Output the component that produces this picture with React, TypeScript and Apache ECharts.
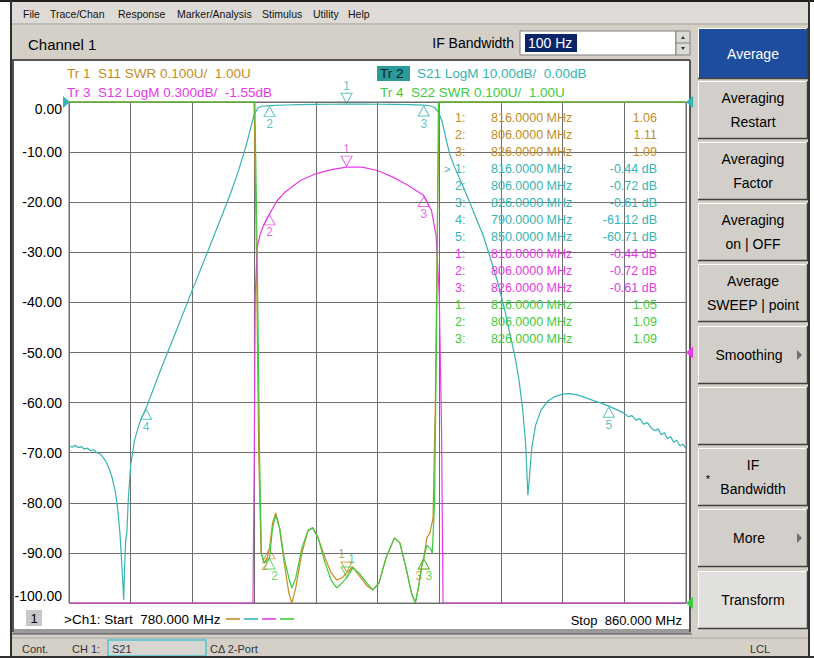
import React, { useEffect, useRef } from "react";
import * as echarts from "echarts";

const FONT = '"Liberation Sans", Arial, sans-serif';

// ---- sweep / scale settings ----
const FREQ_START = 780;
const FREQ_STOP = 860;
const FREQ_DIV = 8;
const S21_MIN = -100;
const S21_MAX = 0;
const S21_DIV = 10;
const S12_MIN = -3.05;
const S12_MAX = -0.05;
const SWR_MIN = 1.0;
const SWR_MAX = 2.0;

// ---- trace data (frequency MHz, displayed value) ----
const s21Data: [number, number][] = [
  [780.0, -68.6], [780.4, -68.9], [780.8, -68.5], [781.2, -69.0], [781.6, -68.8], [782.0, -69.3],
  [782.4, -69.1], [782.8, -69.6], [783.2, -69.4], [783.6, -70.0], [784.0, -70.2], [784.4, -70.9],
  [784.8, -71.8], [785.2, -73.2], [785.6, -75.0], [786.0, -77.8], [786.3, -81.0], [786.6, -86.0],
  [786.8, -91.0], [787.0, -96.5], [787.1, -99.4], [787.2, -93.0], [787.35, -87.5], [787.5, -86.0],
  [787.7, -79.0], [788.0, -72.5], [788.5, -67.5], [789.2, -63.8], [790.0, -61.1], [792.0, -53.0],
  [794.0, -45.3], [796.0, -37.5], [798.0, -29.8], [800.0, -22.0], [801.0, -18.0], [802.0, -13.6],
  [803.0, -8.5], [803.5, -5.5], [804.0, -2.5], [804.5, -1.2], [805.0, -0.85], [806.0, -0.72],
  [808.0, -0.6], [810.0, -0.52], [812.0, -0.47], [814.0, -0.45], [816.0, -0.44], [818.0, -0.44],
  [820.0, -0.45], [822.0, -0.48], [824.0, -0.53], [826.0, -0.61], [826.8, -0.75], [827.4, -1.1],
  [827.9, -2.0], [828.4, -4.0], [828.9, -7.5], [829.4, -10.6], [830.0, -13.0], [831.0, -16.5],
  [832.0, -20.2], [833.0, -24.0], [833.7, -26.6], [834.5, -30.5], [835.5, -35.5], [836.5, -41.5],
  [837.2, -46.5], [837.8, -50.6], [838.3, -55.0], [838.8, -61.0], [839.2, -68.0], [839.5, -78.5],
  [839.7, -75.0], [840.0, -69.0], [840.5, -64.5], [841.2, -61.5], [842.0, -59.8], [843.0, -58.8],
  [844.0, -58.3], [845.0, -58.2], [846.0, -58.5], [847.0, -59.0], [848.0, -59.6], [849.0, -60.1],
  [850.0, -60.7], [851.0, -61.4], [852.0, -62.1], [852.5, -62.8], [853.0, -62.6], [853.5, -63.5],
  [854.0, -63.2], [854.5, -64.3], [855.0, -64.0], [855.5, -65.1], [856.0, -65.6], [856.4, -65.2],
  [856.8, -66.4], [857.2, -66.0], [857.6, -67.2], [858.0, -66.8], [858.4, -67.9], [858.8, -67.5],
  [859.2, -68.6], [859.6, -68.3], [860.0, -69.2],
];

const s12Data: [number, number][] = [
  [780.0, -3.05], [803.85, -3.05], [804.0, -2.3], [804.15, -1.2], [804.4, -0.92], [804.8, -0.84],
  [805.3, -0.78], [806.0, -0.72], [807.0, -0.64], [808.0, -0.59], [810.0, -0.52], [812.0, -0.48],
  [814.0, -0.455], [816.0, -0.44], [818.0, -0.44], [820.0, -0.46], [822.0, -0.5], [824.0, -0.55],
  [825.0, -0.58], [826.0, -0.61], [827.0, -0.7], [827.6, -0.85], [828.0, -1.2], [828.3, -2.0],
  [828.5, -3.05], [860.0, -3.05],
];

const s11Data: [number, number][] = [
  [780.0, 2.0], [804.0, 2.0], [804.3, 1.7], [804.6, 1.3], [804.9, 1.1], [805.3, 1.08], [805.7, 1.09],
  [806.0, 1.11], [806.4, 1.16], [806.8, 1.18], [807.3, 1.15], [807.9, 1.08], [808.5, 1.02],
  [808.9, 1.0], [809.4, 1.03], [810.2, 1.1], [811.0, 1.145], [811.6, 1.15], [812.3, 1.13],
  [813.2, 1.09], [814.0, 1.06], [814.7, 1.046], [815.4, 1.05], [816.0, 1.06], [816.8, 1.072],
  [817.6, 1.055], [818.6, 1.035], [819.4, 1.026], [820.2, 1.04], [821.1, 1.09], [822.2, 1.13],
  [822.9, 1.12], [823.7, 1.07], [824.4, 1.02], [824.9, 1.0], [825.3, 1.03], [825.7, 1.07],
  [826.0, 1.09], [826.4, 1.13], [826.8, 1.14], [827.2, 1.17], [827.5, 1.4], [827.8, 1.8],
  [828.0, 2.0], [860.0, 2.0],
];

const s22Data: [number, number][] = [
  [780.0, 2.0], [804.1, 2.0], [804.4, 1.7], [804.7, 1.3], [804.95, 1.1], [805.3, 1.08], [805.7, 1.085],
  [806.0, 1.09], [806.4, 1.15], [806.8, 1.175], [807.3, 1.15], [807.9, 1.09], [808.5, 1.05],
  [808.9, 1.03], [809.4, 1.05], [810.2, 1.11], [811.0, 1.145], [811.6, 1.15], [812.3, 1.13],
  [813.2, 1.08], [814.0, 1.045], [814.7, 1.03], [815.4, 1.04], [816.0, 1.05], [816.8, 1.07],
  [817.6, 1.06], [818.6, 1.04], [819.4, 1.026], [820.2, 1.04], [821.1, 1.09], [822.2, 1.13],
  [822.9, 1.12], [823.7, 1.07], [824.4, 1.02], [824.9, 1.0], [825.3, 1.03], [825.7, 1.07],
  [826.0, 1.09], [826.4, 1.115], [826.8, 1.11], [827.1, 1.1], [827.4, 1.2], [827.7, 1.6],
  [827.9, 2.0], [860.0, 2.0],
];

// ---- markers ----
const markerFreqs = [816, 806, 826];
const s21MarkerFreqs = [816, 806, 826, 790, 850];
const s11MarkerVals = [1.06, 1.11, 1.09];
const s21MarkerVals = [-0.44, -0.72, -0.61, -61.12, -60.71];
const s12MarkerVals = [-0.44, -0.72, -0.61];
const s22MarkerVals = [1.05, 1.09, 1.09];

// ---- labels ----
const menuItems = ["File", "Trace/Chan", "Response", "Marker/Analysis", "Stimulus", "Utility", "Help"];
const menuX = [23, 50, 118, 177, 262, 313, 348];
const traceNames = [
  "Tr 1  S11 SWR 0.100U/  1.00U",
  "Tr 2",
  "S21 LogM 10.00dB/  0.00dB",
  "Tr 3  S12 LogM 0.300dB/  -1.55dB",
  "Tr 4  S22 SWR 0.100U/  1.00U",
];
const softkeys = [
  ["Average"],
  ["Averaging", "Restart"],
  ["Averaging", "Factor"],
  ["Averaging", "on | OFF"],
  ["Average", "SWEEP | point"],
  ["Smoothing"],
  [""],
  ["IF", "Bandwidth"],
  ["More"],
  ["Transform"],
];

const C_S11 = "#c48c24";
const C_S21 = "#36b4b4";
const C_S12 = "#e63ae6";
const C_S22 = "#3ecb3e";
const GRID_COLOR = "#6e6e6e";
const GRID = { left: 69, top: 102, width: 617, height: 501 };
const PANEL = "#d4d0c8";

const DOWN = "path://M0,0L10,0L5,10Z";
const UP = "path://M5,0L10,10L0,10Z";

function txt(x: number, y: number, text: string, fill: string, size: number, align = "left", extra: any = {}) {
  return {
    type: "text",
    x,
    y,
    z: 50,
    silent: true,
    style: { text, fill, fontSize: size, fontFamily: FONT, align, verticalAlign: "middle", ...extra },
  };
}
function rect(x: number, y: number, w: number, h: number, fill: string, extra: any = {}) {
  return { type: "rect", shape: { x, y, width: w, height: h }, silent: true, z: 1, style: { fill, ...extra } };
}
function line(x1: number, y1: number, x2: number, y2: number, stroke: string, lw = 1, z = 2) {
  return { type: "line", shape: { x1, y1, x2, y2 }, silent: true, z, style: { stroke, lineWidth: lw } };
}

function button(x: number, y: number, w: number, h: number, lines: string[], active: boolean, arrow: boolean, star: boolean, light = false) {
  const els: any[] = [];
  els.push(rect(x, y, w, h, active ? "#1e4d9e" : light ? "#e2e0dc" : "#d2cfca"));
  els.push(line(x, y + 0.5, x + w, y + 0.5, "#ffffff", 1));
  els.push(line(x + 0.5, y, x + 0.5, y + h, "#ffffff", 1));
  els.push(line(x, y + h - 0.5, x + w, y + h - 0.5, "#404040", 1.5));
  els.push(line(x + w - 0.5, y, x + w - 0.5, y + h, "#404040", 1.5));
  const cx = x + w / 2 - (arrow ? 4 : 0);
  const col = active ? "#ffffff" : "#000000";
  if (lines.length === 1) {
    els.push(txt(cx, y + h / 2, lines[0], col, 14, "center"));
  } else {
    els.push(txt(cx, y + h / 2 - 12, lines[0], col, 14, "center"));
    els.push(txt(cx, y + h / 2 + 12, lines[1], col, 14, "center"));
  }
  if (arrow) {
    els.push({
      type: "polygon",
      z: 50,
      silent: true,
      shape: { points: [[x + w - 11, y + h / 2 - 5], [x + w - 6, y + h / 2], [x + w - 11, y + h / 2 + 5]] },
      style: { fill: "#707070" },
    });
  }
  if (star) els.push(txt(x + 10, y + h / 2 + 2, "*", "#000", 11, "center"));
  return els;
}

function markerSeries(freqs: number[], vals: number[], color: string, yAxisIndex: number, dx = 0) {
  return {
    type: "scatter",
    yAxisIndex,
    silent: true,
    clip: false,
    z: 6,
    symbolSize: [11, 10],
    itemStyle: { color: "rgba(0,0,0,0)", borderColor: color, borderWidth: 1 },
    data: freqs.map((f, i) => ({
      value: [f, vals[i]],
      symbol: i === 0 ? DOWN : UP,
      symbolOffset: i === 0 ? [0, -6] : [0, 6],
      label: {
        show: true,
        formatter: String(i + 1),
        position: i === 0 ? "top" : "bottom",
        distance: 1,
        offset: [dx, 0],
        color,
        fontSize: 12,
        fontFamily: FONT,
      },
    })),
  };
}

function lineSeries(data: [number, number][], color: string, yAxisIndex: number, z: number) {
  return {
    type: "line",
    data,
    yAxisIndex,
    showSymbol: false,
    symbol: "none",
    clip: false,
    z,
    lineStyle: { color, width: 1.2 },
  };
}

export default function App() {
  const ref = useRef<HTMLDivElement>(null);
  useEffect(() => {
    document.body.style.margin = "0";
    const chart = echarts.init(ref.current!, undefined, { renderer: "svg" });

    const g: any[] = [];
    // window chrome
    g.push(rect(0, 0, 814, 658, "#ffffff"));
    g.push(rect(10, 0, 800, 657, PANEL));
    g.push(line(0, 1, 814, 1, "#202020", 2));
    g.push(line(11, 0, 11, 658, "#303030", 2));
    g.push(line(809, 0, 809, 658, "#303030", 2));
    g.push(line(0, 657, 814, 657, "#303030", 2));
    g.push(rect(12, 2, 796, 21, "#dedbd6"));
    menuItems.forEach((m, i) => g.push(txt(menuX[i], 14, m, "#111", 10.5)));
    g.push(line(12, 24, 808, 24, "#a8a6a0", 1));
    // channel bar
    g.push(txt(28, 44, "Channel 1", "#000", 15));
    g.push(txt(514, 43, "IF Bandwidth", "#000", 14, "right"));
    g.push(rect(520, 31, 156, 24, "#ffffff", { stroke: "#808080", lineWidth: 1 }));
    g.push(rect(525, 34, 52, 18, "#0a246a"));
    g.push(txt(528, 43, "100 Hz", "#ffffff", 14));
    g.push(rect(676, 31, 14, 24, "#dcdad6", { stroke: "#808080", lineWidth: 1 }));
    g.push(line(676, 43, 690, 43, "#808080", 1));
    g.push({ type: "polygon", z: 5, silent: true, shape: { points: [[681, 39], [685, 39], [683, 36]] }, style: { fill: "#333" } });
    g.push({ type: "polygon", z: 5, silent: true, shape: { points: [[681, 47], [685, 47], [683, 50]] }, style: { fill: "#333" } });
    // plot window
    g.push(rect(13, 61, 676, 568, "#ffffff"));
    g.push(line(12, 60, 690, 60, "#555", 2));
    g.push(line(13, 60, 13, 632, "#555", 2));
    g.push(line(690, 60, 690, 632, "#555", 2));
    g.push(rect(13, 629, 678, 5, "#9a9a9a"));
    g.push(line(12, 634, 692, 634, "#555", 1));
    // status bar
    g.push(line(12, 638, 808, 638, "#a8a6a0", 1));
    g.push(txt(22, 649, "Cont.", "#333", 11));
    g.push(txt(72, 649, "CH 1:", "#333", 11));
    g.push(rect(108, 640, 98, 16, "#d8d6d2", { stroke: "#48c8d2", lineWidth: 1.5 }));
    g.push(txt(112, 649, "S21", "#333", 11));
    g.push(txt(210, 649, "C\u0394 2-Port", "#333", 11));
    g.push(txt(750, 649, "LCL", "#333", 11));
    // softkeys
    const keyY = [28, 81, 142, 203, 264, 326, 387, 448, 509, 571];
    const keyH = [51, 58, 58, 58, 58, 58, 58, 58, 58, 58];
    softkeys.forEach((k, i) => {
      g.push(...button(698, keyY[i], 110, keyH[i], k, i === 0, i === 5 || i === 8, i === 7, i === 9));
    });

    // trace legend
    g.push(txt(67, 73, traceNames[0], C_S11, 13.5));
    g.push(rect(377, 66, 33, 15, "#2a9a9a"));
    g.push(txt(380, 73, traceNames[1], "#0b2424", 13.5));
    g.push(txt(417, 73, traceNames[2], C_S21, 13.5));
    g.push(txt(67, 92, traceNames[3], C_S12, 13.5));
    g.push(txt(380, 92, traceNames[4], C_S22, 13.5));

    // reference arrows
    const gy = (v: number, min: number, max: number) => GRID.top + GRID.height * (1 - (v - min) / (max - min));
    const gL = GRID.left;
    const gR = GRID.left + GRID.width;
    const ry21 = gy(S21_MAX, S21_MIN, S21_MAX);
    g.push({ type: "polygon", z: 60, silent: true, shape: { points: [[gL - 6, ry21 - 6], [gL + 1, ry21], [gL - 6, ry21 + 6]] }, style: { fill: C_S21 } });
    g.push({ type: "polygon", z: 60, silent: true, shape: { points: [[gR + 7, ry21 - 6], [gR, ry21], [gR + 7, ry21 + 6]] }, style: { fill: C_S21 } });
    const ry12 = gy((S12_MIN + S12_MAX) / 2, S12_MIN, S12_MAX);
    g.push({ type: "polygon", z: 60, silent: true, shape: { points: [[gR + 7, ry12 - 6], [gR, ry12], [gR + 7, ry12 + 6]] }, style: { fill: C_S12 } });
    const rySwr = gy(SWR_MIN, SWR_MIN, SWR_MAX);
    g.push({ type: "polygon", z: 60, silent: true, shape: { points: [[gR + 7, rySwr - 6], [gR, rySwr], [gR + 7, rySwr + 6]] }, style: { fill: C_S22 } });

    // marker table
    const rows: { idx: string; f: number; v: string; c: string; act: boolean }[] = [];
    markerFreqs.forEach((f, i) => rows.push({ idx: `${i + 1}:`, f, v: s11MarkerVals[i].toFixed(2), c: C_S11, act: false }));
    s21MarkerFreqs.forEach((f, i) => rows.push({ idx: `${i + 1}:`, f, v: `${s21MarkerVals[i].toFixed(2)} dB`, c: C_S21, act: i === 0 }));
    markerFreqs.forEach((f, i) => rows.push({ idx: `${i + 1}:`, f, v: `${s12MarkerVals[i].toFixed(2)} dB`, c: C_S12, act: false }));
    markerFreqs.forEach((f, i) => rows.push({ idx: `${i + 1}:`, f, v: s22MarkerVals[i].toFixed(2), c: C_S22, act: false }));
    rows.forEach((r, i) => {
      const y = 118 + 17 * i;
      if (r.act) g.push(txt(444, y, ">", r.c, 11));
      g.push(txt(455, y, r.idx, r.c, 12.5));
      g.push(txt(491, y, `${r.f.toFixed(4)} MHz`, r.c, 12.5));
      g.push(txt(657, y, r.v, r.c, 12.5, "right"));
    });

    // footer
    g.push(rect(26, 610, 16, 16, "#c8c8c8"));
    g.push(txt(34, 618, "1", "#000", 13, "center"));
    g.push(txt(64, 619, `>Ch1: Start  ${FREQ_START.toFixed(3)} MHz`, "#000", 13.5));
    [C_S11, C_S21, C_S12, C_S22].forEach((c, i) => g.push(line(226 + i * 18, 619, 240 + i * 18, 619, c, 1.6, 50)));
    g.push(txt(682, 620, `Stop  ${FREQ_STOP.toFixed(3)} MHz`, "#000", 13, "right"));

    chart.setOption({
      animation: false,
      backgroundColor: "#ffffff",
      grid: { ...GRID, show: true, borderColor: GRID_COLOR, borderWidth: 1, backgroundColor: "transparent", z: 10 },
      graphic: { elements: g },
      xAxis: {
        type: "value",
        min: FREQ_START,
        max: FREQ_STOP,
        interval: FREQ_DIV,
        axisLabel: { show: false },
        axisTick: { show: false },
        axisLine: { show: false },
        splitLine: { show: true, lineStyle: { color: GRID_COLOR, width: 1 } },
        z: 10,
      },
      yAxis: [
        {
          type: "value",
          min: S21_MIN,
          max: S21_MAX,
          interval: S21_DIV,
          axisLine: { show: false },
          axisTick: { show: false },
          splitLine: { show: true, lineStyle: { color: GRID_COLOR, width: 1 } },
          axisLabel: {
            color: "#000",
            fontSize: 14,
            fontFamily: FONT,
            margin: 7,
            formatter: (v: number) => v.toFixed(2),
            verticalAlignMinLabel: "bottom",
            verticalAlignMaxLabel: "top",
          },
          z: 10,
        },
        { type: "value", min: S12_MIN, max: S12_MAX, show: false, splitLine: { show: false } },
        { type: "value", min: SWR_MIN, max: SWR_MAX, show: false, splitLine: { show: false } },
      ],
      series: [
        lineSeries(s11Data, C_S11, 2, 20),
        lineSeries(s21Data, C_S21, 0, 21),
        lineSeries(s12Data, C_S12, 1, 22),
        lineSeries(s22Data, C_S22, 2, 23),
        markerSeries(markerFreqs, s11MarkerVals, C_S11, 2, -5),
        markerSeries(s21MarkerFreqs, s21MarkerVals, C_S21, 0),
        markerSeries(markerFreqs, s12MarkerVals, C_S12, 1),
        markerSeries(markerFreqs, s22MarkerVals, C_S22, 2, 5),
      ],
    });
    return () => chart.dispose();
  }, []);
  return <div ref={ref} style={{ position: "fixed", left: 0, top: 0, width: 814, height: 658 }} />;
}
